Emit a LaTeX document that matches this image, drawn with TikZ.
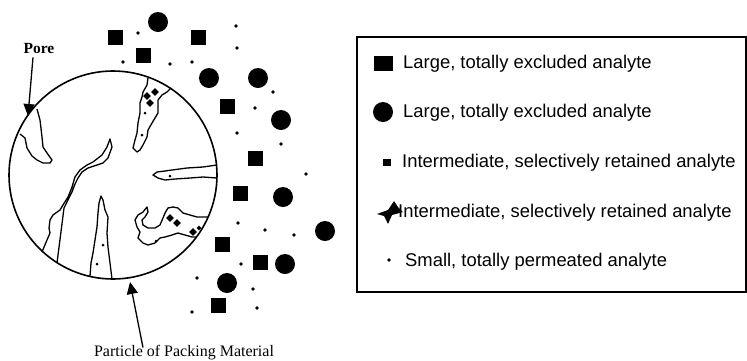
\documentclass[tikz,border=0pt]{standalone}
\usepackage{fontspec}
\setmainfont{Liberation Serif}
\newfontfamily\legendfont{Liberation Sans}
\usetikzlibrary{arrows.meta}
\tikzset{
  bigsq/.style={fill=black,minimum size=15pt,inner sep=0pt,outer sep=0pt},
  bigci/.style={circle,fill=black,minimum size=20pt,inner sep=0pt,outer sep=0pt},
  smalldot/.style={circle,fill=black,minimum size=3.8pt,inner sep=0pt},
  dmark/.style={fill=black,minimum size=5.5pt,inner sep=0pt,rotate=45},
  pore/.style={line width=1.3pt,line join=round},
  legtext/.style={font=\legendfont\fontsize{18.4}{20}\selectfont,anchor=base west,inner sep=0pt},
  arr/.style={line width=1.3pt,-{Triangle[length=12pt,width=11pt]}}
}
\begin{document}
\begin{tikzpicture}[x=1pt,y=-1pt]
\useasboundingbox (0,0) rectangle (747,360);
% particle
\node[circle,draw,line width=1.6pt,minimum size=208pt,inner sep=0pt] (particle) at (113,175) {};
% pores
\draw[pore] (20,134) -- (25,138) -- (27,148) -- (32,156) -- (37,160) -- (43,163) -- (50,163) -- (52,160) -- (47,153) -- (43,147) -- (42,137) -- (40,120) -- (37,109);
\draw[pore] (148,78) -- (147,85) -- (143,92) -- (142,97) -- (140,103) -- (140,113) -- (138,123) -- (137,133) -- (135,140) -- (133,148) -- (137,152) -- (140,150) -- (143,145) -- (147,137) -- (148,130) -- (152,123) -- (155,118) -- (158,113) -- (158,107) -- (158,100) -- (162,95) -- (167,92) -- (171,88);
\draw[pore] (42,252) -- (47,240) -- (50,233) -- (49,228) -- (50,220) -- (53,215) -- (60,210) -- (63,205) -- (68,197) -- (72,187) -- (75,177) -- (80,170) -- (87,165) -- (93,162) -- (102,155) -- (107,147) -- (110,139) -- (112,147) -- (108,158) -- (103,163) -- (97,165) -- (88,168) -- (82,172) -- (78,178) -- (75,184) -- (72,192) -- (68,200) -- (64,208) -- (57,263);
\draw[pore] (90,276) -- (91,263) -- (93,253) -- (95,240) -- (97,227) -- (98,213) -- (99,203) -- (101,196) -- (103,200) -- (105,210) -- (108,217) -- (107,233) -- (108,247) -- (110,263) -- (112,279);
\draw[pore] (217,165) -- (203,167) -- (187,168) -- (172,170) -- (165,171) -- (157,172) -- (153,175) -- (158,178) -- (165,180) -- (175,179) -- (190,178) -- (203,177) -- (217,178);
\draw[pore] (196,237) -- (192,237) -- (185,235) -- (178,233) -- (172,235) -- (165,237) -- (160,238) -- (155,243) -- (148,245) -- (143,243) -- (138,238) -- (140,232) -- (137,227) -- (135,220) -- (138,215) -- (143,212) -- (147,207) -- (148,212) -- (145,217) -- (142,220) -- (143,225) -- (148,228) -- (155,228) -- (160,225) -- (163,218) -- (165,213) -- (168,208) -- (173,207) -- (178,208) -- (183,213) -- (190,215) -- (197,217) -- (208,217);
% analytes inside pores
\foreach \x/\y [count=\i] in {155/92,147/96,150/103,170/218,177/223,193/232}
  \node[dmark] (dm\i) at (\x,\y) {};
\node[dmark,minimum size=3.5pt] (dm7) at (199,228) {};
\foreach \x/\y [count=\i] in {145/113,142/135,103/245,97/264,156/241,170/176}
  \node[smalldot,minimum size=3pt] (pd\i) at (\x,\y) {};
% analytes outside
\foreach \x/\y [count=\i] in {115/37,198/37,143/55,227/106,255/158,240/193,222/244,260/262,218/305}
  \node[bigsq] (sq\i) at (\x,\y) {};
\foreach \x/\y [count=\i] in {158/22,209/78,258/78,281/120,283/197,325/231,285/264,227/283}
  \node[bigci] (ci\i) at (\x,\y) {};
\foreach \x/\y [count=\i] in {138/33,123/62,170/64,192/62,236/26,237/48,273/92,255/108,237/133,281/144,306/174,238/223,265/230,294/235,241/264,197/278,253/289,192/312,257/308}
  \node[smalldot] (dt\i) at (\x,\y) {};
% labels
\node[font=\bfseries\fontsize{15.5}{17}\selectfont,inner sep=0pt] (porelabel) at (39,48) {Pore};
\coordinate (poretip) at (28,116);
\draw[arr] ([xshift=-6pt,yshift=-4pt]porelabel.south) -- (poretip);
\node[font=\fontsize{16}{18}\selectfont,inner sep=0pt,anchor=base] (partlabel) at (184,356) {Particle of Packing Material};
\coordinate (parttip) at (130,282);
\draw[arr] ([xshift=-41pt,yshift=-3pt]partlabel.north) -- (parttip);
% legend
\draw[line width=1.5pt] (357,37) rectangle (746,292);
\node[fill=black,minimum width=19pt,minimum height=15pt,inner sep=0pt] (lg1) at (383,63) {};
\node[bigci] (lg2) at (383,112) {};
\node[fill=black,minimum width=8pt,minimum height=7pt,inner sep=0pt] (lg3) at (387,162) {};
\fill (377,214) -- (388,210) -- (394,201) -- (398,207) -- (403,212) -- (392,215) -- (388,224) -- (384,216) -- cycle;
\node[smalldot] (lg5) at (389,260) {};
\node[legtext] (t1) at (403,68) {Large, totally excluded analyte};
\node[legtext] (t2) at (403,117) {Large, totally excluded analyte};
\node[legtext] (t3) at (402,167) {Intermediate, selectively retained analyte};
\node[legtext] (t4) at (398,217) {Intermediate, selectively retained analyte};
\node[legtext] (t5) at (405,266) {Small, totally permeated analyte};
\end{tikzpicture}
\end{document}
